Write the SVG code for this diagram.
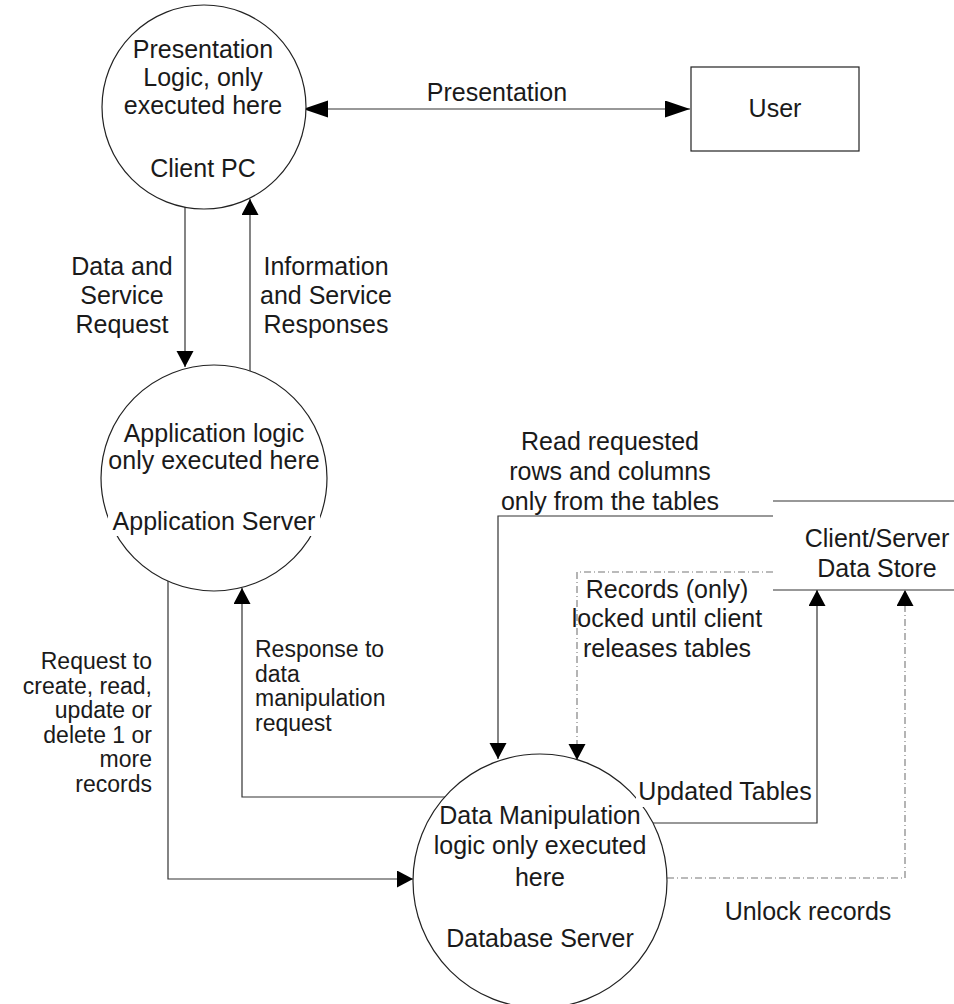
<svg xmlns="http://www.w3.org/2000/svg" width="954" height="1004" viewBox="0 0 954 1004">
<style>
text{font-family:"Liberation Sans",Arial,sans-serif;font-size:25px;fill:#1a1a1a}
.c{text-anchor:middle}
.e{text-anchor:end}
.s{font-size:23px}
.node{fill:#fff;stroke:#222;stroke-width:1.2}
.ln{fill:none;stroke:#333;stroke-width:1.2}
.dd{fill:none;stroke:#777;stroke-width:1.1;stroke-dasharray:7 3 1 3}
.bg{fill:#fff}
</style>
<defs>
<marker id="big" markerUnits="userSpaceOnUse" markerWidth="26" markerHeight="18" refX="25" refY="8.5" orient="auto-start-reverse"><path d="M0,0 L25,8.5 L0,17 z" fill="#000"/></marker>
<marker id="ar" markerUnits="userSpaceOnUse" markerWidth="17" markerHeight="18" refX="16" refY="8.5" orient="auto-start-reverse"><path d="M0,0 L16,8.5 L0,17 z" fill="#000"/></marker>
</defs>
<rect width="954" height="1004" fill="#fff"/>
<g id="connectors">
<path class="ln" d="M303,109 L690,109" marker-start="url(#big)" marker-end="url(#big)"/>
<path class="ln" d="M185,207 L185,367" marker-end="url(#ar)"/>
<path class="ln" d="M250,371 L250,199" marker-end="url(#ar)"/>
<path class="ln" d="M168,581 L168,879 L413,879" marker-end="url(#ar)"/>
<path class="ln" d="M446,797 L242,797 L242,588" marker-end="url(#ar)"/>
<path class="ln" d="M773,516 L498,516 L498,759" marker-end="url(#ar)"/>
<path class="dd" d="M773,572 L577,572 L577,760" marker-end="url(#ar)"/>
<path class="ln" d="M653,823 L817,823 L817,590" marker-end="url(#ar)"/>
<path class="dd" d="M667,878 L905,878 L905,590" marker-end="url(#ar)"/>
</g>
<g id="client-pc">
<circle class="node" cx="204" cy="107" r="102"/>
<text class="c" x="203" y="58">Presentation</text>
<text class="c" x="203" y="86">Logic, only</text>
<text class="c" x="203" y="114">executed here</text>
<text class="c" x="203" y="177">Client PC</text>
</g>
<g id="user">
<rect class="node" x="691" y="67" width="168" height="84"/>
<text class="c" x="775" y="117">User</text>
</g>
<g id="app-server">
<circle class="node" cx="214" cy="478" r="113"/>
<text class="c" x="214" y="442">Application logic</text>
<text class="c" x="214" y="469">only executed here</text>
<rect class="bg" x="108" y="509" width="212" height="27"/>
<text class="c" x="214" y="530">Application Server</text>
</g>
<g id="db-server">
<circle class="node" cx="540" cy="881" r="127"/>
<text class="c" x="540" y="824">Data Manipulation</text>
<text class="c" x="540" y="854">logic only executed</text>
<text class="c" x="540" y="886">here</text>
<text class="c" x="540" y="947">Database Server</text>
</g>
<g id="data-store">
<path class="ln" d="M773,501 L954,501 M773,590 L954,590"/>
<text class="c" x="877" y="547">Client/Server</text>
<text class="c" x="877" y="577">Data Store</text>
</g>
<g id="labels">
<text class="c" x="497" y="101">Presentation</text>
<text class="c" x="122" y="275">Data and</text>
<text class="c" x="122" y="304">Service</text>
<text class="c" x="122" y="333">Request</text>
<text class="c" x="326" y="275">Information</text>
<text class="c" x="326" y="304">and Service</text>
<text class="c" x="326" y="333">Responses</text>
<text class="e s" x="152" y="669">Request to</text>
<text class="e s" x="152" y="693.5">create, read,</text>
<text class="e s" x="152" y="718">update or</text>
<text class="e s" x="152" y="742.5">delete 1 or</text>
<text class="e s" x="152" y="767">more</text>
<text class="e s" x="152" y="791.5">records</text>
<text class="s" x="255" y="657">Response to</text>
<text class="s" x="255" y="681.5">data</text>
<text class="s" x="255" y="706">manipulation</text>
<text class="s" x="255" y="730.5">request</text>
<text class="c" x="610" y="450">Read requested</text>
<text class="c" x="610" y="480">rows and columns</text>
<text class="c" x="610" y="510">only from the tables</text>
<text class="c" x="667" y="598">Records (only)</text>
<text class="c" x="667" y="627">locked until client</text>
<text class="c" x="667" y="657">releases tables</text>
<rect class="bg" x="636" y="781" width="178" height="26"/>
<text class="c" x="725" y="800">Updated Tables</text>
<text class="c" x="808" y="920">Unlock records</text>
</g>
</svg>
